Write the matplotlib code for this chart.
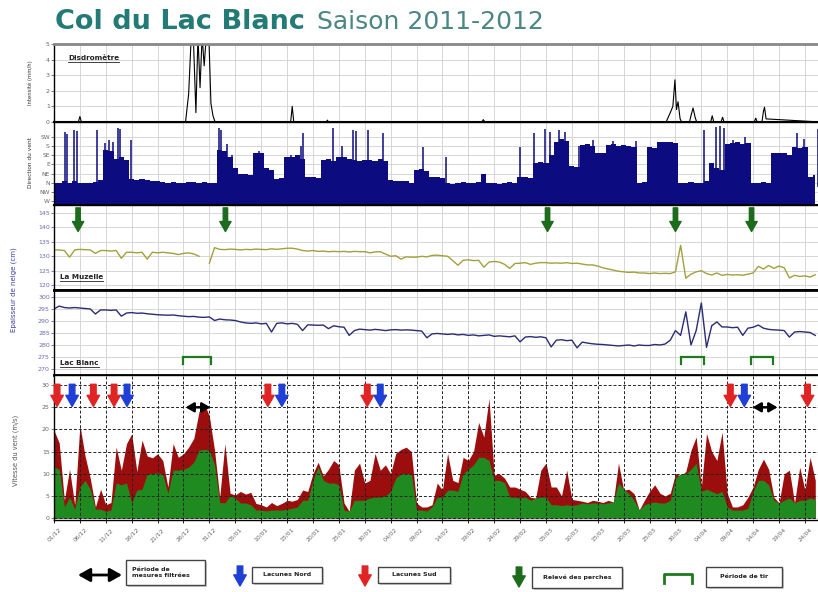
import numpy as np
import matplotlib
matplotlib.use('Agg')
import matplotlib.pyplot as plt
from matplotlib.patches import Rectangle
from matplotlib.lines import Line2D

# ---------------- DATA ----------------
tick_days = list(range(0, 150, 5))
tick_labels = ['01/12', '06/12', '11/12', '16/12', '21/12', '26/12', '31/12', '05/01',
               '10/01', '15/01', '20/01', '25/01', '30/01', '04/02', '09/02', '14/02',
               '19/02', '24/02', '29/02', '05/03', '10/03', '15/03', '20/03', '25/03',
               '30/03', '04/04', '09/04', '14/04', '19/04', '24/04']

# Disdrometre intensity (mm/h), event points
disdro_day = [0, 4.7, 5.0, 5.3, 25.4, 26.0, 26.5, 26.9, 27.4, 27.8, 28.2, 28.6, 29.0, 29.4,
              29.9, 30.3, 30.7, 31.1, 45.7, 46.0, 46.3, 52.6, 52.8, 53.0, 82.6, 82.9, 83.2,
              118.2, 118.6, 119.0, 119.5, 119.9, 120.2, 120.5, 120.9, 121.2, 122.7, 123.0,
              123.4, 123.8, 124.1, 126.8, 127.1, 127.4, 128.8, 129.1, 129.4, 135.2, 135.5,
              135.8, 136.7, 137.0, 137.2, 137.5, 148]
disdro_val = [0, 0, 0.35, 0, 0, 1.8, 5.5, 5.5, 0.6, 5.5, 2.2, 5.5, 3.6, 5.5,
              5.5, 1.2, 0.4, 0, 0, 1.0, 0, 0, 0.12, 0, 0, 0.15, 0,
              0, 0.3, 0.6, 1.0, 2.7, 0.8, 1.3, 0.2, 0, 0, 0.4,
              0.9, 0.3, 0, 0, 0.4, 0, 0, 0.3, 0, 0, 0.25,
              0, 0, 0.7, 0.95, 0.2, 0]

# Wind direction (0=W,1=NW,2=N,3=NE,4=E,5=SE,6=S,7=SW), daily base level
dir_labels = ['W', 'NW', 'N', 'NE', 'E', 'SE', 'S', 'SW']
dir_base = [2.0, 2.0, 2.2, 2.0, 2.2, 2.0, 2.0, 2.0, 2.1, 2.3,
            5.6, 5.5, 4.6, 4.8, 4.5, 2.4, 2.3, 2.4, 2.3, 2.2,
            2.2, 2.1, 2.0, 2.1, 2.0, 2.0, 2.1, 2.1, 2.0, 2.1,
            2.0, 2.0, 5.6, 5.5, 4.8, 3.6, 3.0, 3.0, 2.8, 5.3,
            5.3, 3.6, 3.4, 2.4, 2.5, 4.8, 4.8, 5.0, 4.6, 2.6,
            2.6, 2.5, 4.5, 4.6, 4.4, 4.8, 4.8, 4.6, 4.5, 4.4,
            4.5, 4.5, 4.4, 4.6, 4.4, 2.3, 2.2, 2.2, 2.2, 2.0,
            3.4, 3.5, 3.3, 2.6, 2.6, 2.5, 2.0, 1.9, 2.0, 2.1,
            2.0, 2.0, 2.1, 3.0, 2.0, 2.0, 1.9, 2.0, 2.1, 2.0,
            2.6, 2.6, 2.5, 4.2, 4.3, 4.1, 5.0, 6.5, 6.8, 6.6,
            3.8, 3.7, 6.1, 6.2, 6.0, 5.3, 5.2, 6.1, 6.2, 6.0,
            6.1, 6.0, 5.9, 2.0, 2.1, 5.9, 5.8, 6.4, 6.5, 6.4,
            6.3, 2.0, 2.0, 2.1, 2.0, 2.0, 2.2, 4.2, 3.6, 3.4,
            6.2, 6.3, 6.4, 6.2, 6.3, 2.0, 2.0, 2.1, 2.0, 5.2,
            5.3, 5.2, 5.0, 5.9, 5.8, 5.9, 2.6, 2.8]
dir_spike_day = [2.1, 2.5, 3.8, 4.4, 8.3, 9.8, 10.6, 11.4, 12.3, 12.7, 14.8, 31.8, 32.3,
                 33.5, 34.3, 39.6, 45.8, 47.6, 48.1, 53.9, 55.6, 57.8, 58.4, 60.7, 63.6,
                 71.3, 75.6, 89.9, 92.6, 94.8, 95.7, 97.5, 98.7, 101.4, 104.1, 108.0,
                 112.4, 115.4, 116.3, 125.6, 127.9, 128.6, 129.4, 131.2, 133.4, 143.5,
                 144.8, 147.6]
dir_spike_val = [7.5, 7.3, 7.8, 7.7, 7.8, 6.3, 6.7, 6.4, 8.0, 7.9, 6.7, 8.0, 7.8,
                 6.2, 5.0, 5.5, 5.0, 6.0, 7.4, 8.0, 6.0, 7.8, 7.7, 7.8, 7.4,
                 5.9, 4.8, 5.9, 7.4, 7.9, 7.6, 7.8, 7.6, 6.0, 6.7, 6.6,
                 6.6, 5.8, 5.5, 7.8, 8.1, 8.2, 8.0, 6.7, 7.0, 7.4,
                 6.8, 7.9]

# Snow depth (cm), daily
muzelle = [132.2, 132.2, 132.0, 129.7, 132.2, 132.4, 132.3, 132.2, 131.0, 132.0,
           132.0, 131.8, 132.0, 129.3, 131.4, 131.4, 131.2, 131.4, 129.0, 131.4,
           131.2, 131.4, 131.2, 131.0, 130.6, 131.0, 131.2, 130.8, 130.0, np.nan,
           127.6, 133.0, 132.4, 132.3, 132.5, 132.4, 132.2, 132.4, 132.3, 132.5,
           132.4, 132.3, 132.6, 132.4, 132.6, 132.8, 132.8, 132.5, 132.0, 131.8,
           132.0, 131.7, 131.8, 131.6, 131.7, 131.6, 131.7, 131.5, 131.7, 131.6,
           131.6, 131.2, 131.5, 131.6, 130.8, 130.0, 130.2, 129.0, 129.8, 129.7,
           129.7, 130.0, 129.8, 130.3, 130.4, 130.2, 130.0, 128.5, 126.9, 128.6,
           128.8, 128.5, 128.6, 126.2, 128.0, 128.2, 128.0, 127.2, 125.8, 127.5,
           127.6, 127.8, 127.2, 127.6, 127.8, 127.8, 127.6, 127.7, 127.6, 127.8,
           127.5, 127.6, 127.3, 127.0, 127.0, 126.6, 126.0, 125.6, 125.2, 124.8,
           124.6, 124.4, 124.5, 124.2, 124.2, 124.0, 124.2, 124.0, 124.1, 124.0,
           124.6, 133.8, 122.4, 123.8, 124.6, 125.0, 124.0, 123.5, 124.2, 123.4,
           123.7, 123.5, 123.6, 123.4, 123.8, 124.2, 126.5, 125.6, 126.8, 125.8,
           126.6, 126.0, 122.5, 123.4, 123.0, 123.2, 122.8, 123.6]
lacblanc = [295.0, 296.2, 295.6, 295.4, 295.6, 295.4, 295.2, 295.0, 292.9, 294.6,
            294.6, 294.4, 294.6, 292.0, 293.3, 293.5, 293.2, 293.3, 293.0, 292.8,
            292.6, 292.5, 292.4, 292.5, 292.2, 292.0, 291.8, 291.9, 291.6, 291.5,
            291.7, 290.2, 290.8, 290.5, 290.4, 290.2, 289.6, 289.2, 289.0, 289.2,
            288.8, 289.0, 285.4, 289.0, 289.2, 288.8, 289.0, 288.6, 286.0, 288.4,
            288.3, 288.2, 288.3, 286.8, 288.0, 287.6, 287.4, 284.0, 286.0, 286.6,
            286.4, 286.2, 286.5, 286.3, 286.0, 286.3, 286.4, 286.2, 286.3, 286.2,
            286.0, 285.8, 283.0, 284.6, 284.8, 284.6, 284.4, 284.6, 284.2, 284.4,
            284.0, 284.2, 283.8, 284.0, 284.2, 283.6, 283.8, 283.6, 283.4, 283.8,
            281.3, 283.3, 283.5, 283.2, 283.4, 283.0, 279.2, 282.0, 282.2, 281.8,
            282.0, 278.8, 281.2, 280.8, 280.5, 280.3, 280.2, 280.0, 279.8, 279.6,
            279.8, 280.0, 279.6, 280.0, 279.8, 279.8, 280.2, 280.0, 280.4, 282.0,
            286.0, 284.0, 293.8, 280.0, 286.0, 297.5, 279.0, 288.0, 289.6, 287.5,
            287.5, 287.2, 287.4, 284.0, 287.0, 287.4, 288.3, 287.0, 286.5, 286.3,
            286.2, 286.0, 283.3, 285.4, 285.6, 285.4, 285.2, 284.0]

# Wind speed (m/s), daily max and mean
wind_max = [19.8, 17.0, 4.0, 11.0, 3.0, 21.0, 14.0, 9.0, 2.5, 6.5,
            3.0, 3.5, 16.0, 10.8, 16.8, 19.0, 10.5, 17.6, 14.0, 13.6,
            14.5, 13.0, 7.0, 16.8, 13.7, 14.5, 16.0, 18.0, 24.0, 25.9,
            23.0, 15.3, 4.7, 16.8, 5.6, 5.2, 6.0, 5.4, 5.8, 3.3,
            3.0, 2.5, 3.5, 2.8, 3.3, 4.0, 3.8, 4.2, 6.3, 6.0,
            10.0, 12.6, 9.5, 11.0, 13.0, 12.0, 3.4, 1.5, 10.8, 12.4,
            7.9, 8.5, 14.6, 10.8, 12.0, 10.0, 14.6, 15.5, 16.0, 15.0,
            3.4, 2.5, 2.5, 3.0, 7.9, 6.3, 14.6, 8.5, 8.0, 13.7,
            13.0, 15.0, 21.6, 18.3, 27.0, 9.7, 10.0, 9.0, 7.0, 7.0,
            6.5, 6.0, 4.7, 4.5, 10.8, 12.4, 7.0, 7.0, 5.0, 10.8,
            4.2, 4.0, 3.8, 3.5, 4.0, 3.8, 3.5, 4.0, 3.6, 12.4,
            6.3, 6.5, 5.5, 1.8, 4.0, 6.0, 7.5, 5.6, 5.0, 5.6,
            10.0, 9.5, 10.5, 15.3, 18.3, 7.0, 19.1, 15.0, 13.0, 19.4,
            5.6, 2.5, 2.5, 3.0, 4.7, 7.0, 11.0, 13.3, 11.0, 4.7,
            3.4, 10.0, 10.8, 3.4, 11.5, 6.3, 13.7, 8.5]
wind_mean = [11.5, 11.0, 2.5, 4.7, 2.0, 7.0, 8.5, 6.5, 2.0, 2.0,
             1.5, 1.8, 7.9, 7.5, 7.9, 3.4, 6.3, 6.5, 10.0, 10.0,
             10.2, 9.8, 5.6, 10.8, 10.8, 11.0, 11.5, 12.6, 15.3, 15.5,
             15.3, 12.0, 3.5, 3.4, 5.0, 4.5, 3.4, 3.4, 3.0, 1.8,
             1.8, 1.6, 1.8, 1.8, 1.8, 2.0, 2.2, 2.5, 4.0, 4.0,
             8.5, 11.5, 8.5, 7.9, 7.9, 7.5, 1.8, 1.5, 4.0, 4.0,
             4.0, 4.5, 4.7, 4.7, 5.0, 6.0, 9.0, 10.0, 10.0, 10.0,
             1.8, 1.8, 1.6, 2.5, 4.7, 4.7, 6.3, 6.3, 6.0, 10.0,
             11.0, 12.0, 13.7, 13.7, 13.0, 8.5, 8.5, 8.0, 4.7, 4.7,
             4.5, 4.7, 4.0, 4.5, 4.7, 4.7, 3.0, 3.0, 2.8, 3.0,
             2.8, 3.0, 3.4, 3.2, 3.4, 3.4, 3.2, 3.4, 3.6, 7.9,
             6.5, 5.5, 4.0, 1.8, 3.0, 3.4, 3.6, 3.4, 3.4, 4.0,
             9.0, 10.0, 10.0, 11.0, 12.4, 6.0, 6.5, 6.0, 5.5, 6.0,
             2.5, 1.8, 1.8, 1.8, 2.2, 6.0, 8.5, 8.5, 7.5, 4.0,
             3.4, 4.0, 4.5, 3.4, 4.0, 4.0, 4.5, 4.2]

# Event markers (day positions)
lacune_sud_days = [0.6, 7.6, 11.6, 41.3, 60.5, 130.6, 145.5]
lacune_nord_days = [3.5, 14.1, 44.0, 63.0, 133.3, 148.1]
filtered_start = [25.4, 134.9]
filtered_end = [30.2, 139.7]
perche_days = [4.65, 33.1, 95.3, 120.0, 134.7]
tir_start = [25.0, 121.1, 134.5]
tir_end = [30.4, 125.6, 138.8]

legend_labels = ['Période de\nmesures filtrées', 'Lacunes Nord', 'Lacunes Sud',
                 'Relevé des perches', 'Période de tir']

# ---------------- STYLE ----------------
plt.rcParams['font.family'] = ['DejaVu Sans']
NAVY = '#0c0c80'
OLIVE = '#a3a03c'
BLUE_LINE = '#2b2b78'
RED = '#9c0e0e'
GREEN = '#1f8a1f'
TEAL = '#247a74'
GRIDC = '#d0d0d0'
TICKC = '#666666'

fig = plt.figure(figsize=(8.18, 5.92), dpi=100)
H = 592.0
L = 54 / 818
W = 1 - L + 0.003


def add_panel(top, bot):
    return fig.add_axes([L, 1 - bot / H, W, (bot - top) / H])


ax1 = add_panel(44, 122)
ax2 = add_panel(122, 205)
ax3 = add_panel(205, 290)
ax4 = add_panel(290, 375)
ax5 = add_panel(375, 520)
axes = [ax1, ax2, ax3, ax4, ax5]
days = np.arange(len(wind_max))

for ax in axes:
    ax.set_xlim(0, 148)
    ax.set_xticks(tick_days)
    ax.tick_params(axis='both', labelsize=4.5, colors=TICKC, length=2, width=0.6, pad=1)
    ax.tick_params(axis='x', colors='black')
    ax.spines['right'].set_visible(False)
    for s in ['left', 'top', 'bottom']:
        ax.spines[s].set_color('black')
        ax.spines[s].set_linewidth(1.0)
    if ax is not ax5:
        ax.set_xticklabels([])
        ax.grid(True, color=GRIDC, lw=0.6)
        ax.set_axisbelow(True)

# Panel 1: disdrometre
ax1.plot(disdro_day, disdro_val, color='black', lw=0.8)
ax1.set_ylim(0, 5)
ax1.set_yticks(range(0, 6))
ax1.spines['top'].set_color('#888888')
ax1.spines['top'].set_linewidth(2)
ax1.spines['bottom'].set_linewidth(1.5)
ax1.tick_params(axis='x', length=0)

# Panel 2: wind direction
ax2.fill_between(days, dir_base, -1, step='mid', color=NAVY, lw=0)
ax2.vlines(dir_spike_day, 1.5, dir_spike_val, color=NAVY, lw=1.1)
ax2.set_ylim(-0.44, 8.64)
ax2.set_yticks(range(8))
ax2.set_yticklabels(dir_labels)
ax2.tick_params(axis='y', labelsize=4.3)
ax2.spines['bottom'].set_linewidth(1.5)

# Panel 3: La Muzelle
ax3.plot(days, muzelle, color=OLIVE, lw=1.0)
ax3.set_ylim(118.3, 147.8)
ax3.set_yticks(range(120, 150, 5))
ax3.tick_params(axis='y', colors='#6b6bb0')
ax3.spines['bottom'].set_linewidth(2)
ax3.tick_params(axis='x', length=0)
for d in perche_days:
    ax3.annotate('', xy=(d, 138.6), xytext=(d, 146.8),
                 arrowprops=dict(arrowstyle='simple,head_width=0.9,head_length=0.8,tail_width=0.35',
                                 color='#1d6b1d', mutation_scale=9, shrinkA=0, shrinkB=0))

# Panel 4: Lac Blanc
ax4.plot(days, lacblanc, color=BLUE_LINE, lw=1.0)
ax4.set_ylim(267.5, 302.9)
ax4.set_yticks(range(270, 305, 5))
ax4.tick_params(axis='y', colors='#6b6bb0')
ax4.spines['top'].set_linewidth(2)
ax4.spines['bottom'].set_linewidth(2)
ax4.tick_params(axis='x', length=0)
for a, b in zip(tir_start, tir_end):
    ax4.plot([a, a, b, b], [272.2, 275, 275, 272.2], color='#1d7a1d', lw=1.6,
             solid_joinstyle='miter')

# Panel 5: wind speed
ax5.fill_between(days, wind_max, 0, color=RED, lw=0)
ax5.fill_between(days, wind_mean, 0, color=GREEN, lw=0)
ax5.set_ylim(-0.45, 32.3)
ax5.set_yticks(range(0, 35, 5))
ax5.grid(True, color='#222222', lw=0.7, ls=(0, (3, 2)))
ax5.set_xticklabels(tick_labels, rotation=45, ha='center', va='top',
                    fontsize=4.3, color=TICKC)
ax5.tick_params(axis='x', pad=3)
for d in lacune_sud_days:
    ax5.annotate('', xy=(d, 25.2), xytext=(d, 30.2),
                 arrowprops=dict(arrowstyle='simple,head_width=0.9,head_length=0.8,tail_width=0.4',
                                 color='#e02424', mutation_scale=10, shrinkA=0, shrinkB=0))
for d in lacune_nord_days:
    ax5.annotate('', xy=(d, 25.2), xytext=(d, 30.2),
                 arrowprops=dict(arrowstyle='simple,head_width=0.9,head_length=0.8,tail_width=0.4',
                                 color='#1f3fd6', mutation_scale=10, shrinkA=0, shrinkB=0))
for a, b in zip(filtered_start, filtered_end):
    ax5.annotate('', xy=(a, 25), xytext=(b, 25),
                 arrowprops=dict(arrowstyle='<|-|>,head_width=0.35,head_length=0.6',
                                 color='black', lw=1.8, mutation_scale=8,
                                 shrinkA=0, shrinkB=0))

# Axis titles
fig.text(30 / 818, 1 - 83 / H, 'Intensité (mm/h)', rotation=90, ha='center', va='center',
         fontsize=3.8, color='#333333')
fig.text(30 / 818, 1 - 163 / H, 'Direction du vent', rotation=90, ha='center', va='center',
         fontsize=4.2, color='#333333')
fig.text(14 / 818, 1 - 290 / H, 'Epaisseur de neige (cm)', rotation=90, ha='center',
         va='center', fontsize=5, color='#3a3aa8')
fig.text(16 / 818, 1 - 450 / H, 'Vitesse du vent (m/s)', rotation=90, ha='center',
         va='center', fontsize=4.8, color='#555555')

# Title
fig.text(55 / 818, 1 - 29 / H, 'Col du Lac Blanc', fontsize=19.5, fontweight='bold',
         color=TEAL, va='baseline')
fig.text(317 / 818, 1 - 29 / H, 'Saison 2011-2012', fontsize=18, color='#4a8683',
         va='baseline')

# Panel labels (underlined)
panel_texts = [
    fig.text(68 / 818, 1 - 60 / H, 'Disdromètre', fontsize=5.2, fontweight='bold', color='#222222'),
    fig.text(60 / 818, 1 - 279 / H, 'La Muzelle', fontsize=5.2, fontweight='bold', color='#222222'),
    fig.text(60 / 818, 1 - 365 / H, 'Lac Blanc', fontsize=5.2, fontweight='bold', color='#222222'),
]

# Legend (overlay axes in pixel coordinates)
lg = fig.add_axes([0, 0, 1, 1], zorder=-1)
lg.set_xlim(0, 818)
lg.set_ylim(592, 0)
lg.axis('off')
lg.annotate('', xy=(78, 575), xytext=(122, 575),
            arrowprops=dict(arrowstyle='<|-|>,head_width=0.45,head_length=0.8',
                            color='black', lw=2, mutation_scale=9, shrinkA=0, shrinkB=0))
lg.annotate('', xy=(240, 586), xytext=(240, 566),
            arrowprops=dict(arrowstyle='simple,head_width=0.9,head_length=0.8,tail_width=0.4',
                            color='#1f3fd6', mutation_scale=10, shrinkA=0, shrinkB=0))
lg.annotate('', xy=(365, 586), xytext=(365, 566),
            arrowprops=dict(arrowstyle='simple,head_width=0.9,head_length=0.8,tail_width=0.4',
                            color='#e02424', mutation_scale=10, shrinkA=0, shrinkB=0))
lg.annotate('', xy=(519, 587), xytext=(519, 567),
            arrowprops=dict(arrowstyle='simple,head_width=0.9,head_length=0.8,tail_width=0.4',
                            color='#1d6b1d', mutation_scale=10, shrinkA=0, shrinkB=0))
lg.plot([664, 664, 692, 692], [583, 574, 574, 583], color='#1d7a1d', lw=2)
boxes = [(126, 560, 79, 25), (252, 567, 70, 16), (378, 567, 72, 16),
         (532, 567, 90, 21), (706, 567, 76, 20)]
for (x, y, w, h), lab in zip(boxes, legend_labels):
    lg.add_patch(Rectangle((x + 1.5, y + 1.5), w, h, facecolor='#cfcfcf', edgecolor='none'))
    lg.add_patch(Rectangle((x, y), w, h, facecolor='white', edgecolor='#444444', lw=1))
    if '\n' in lab:
        lg.text(x + 6, y + h / 2, lab, fontsize=4.5, fontweight='bold', ha='left',
                va='center', color='#222222', linespacing=1.1)
    else:
        lg.text(x + w / 2, y + h / 2, lab, fontsize=4.5, fontweight='bold', ha='center',
                va='center', color='#222222')

# underline panel labels
fig.canvas.draw()
inv = fig.transFigure.inverted()
for t in panel_texts:
    bb = t.get_window_extent()
    (x0, y0), (x1, _) = inv.transform([[bb.x0, bb.y0], [bb.x1, bb.y1]])
    fig.add_artist(Line2D([x0, x1], [y0 - 0.001, y0 - 0.001], transform=fig.transFigure,
                          color='#222222', lw=0.6))

fig.savefig('out.png', dpi=100)
